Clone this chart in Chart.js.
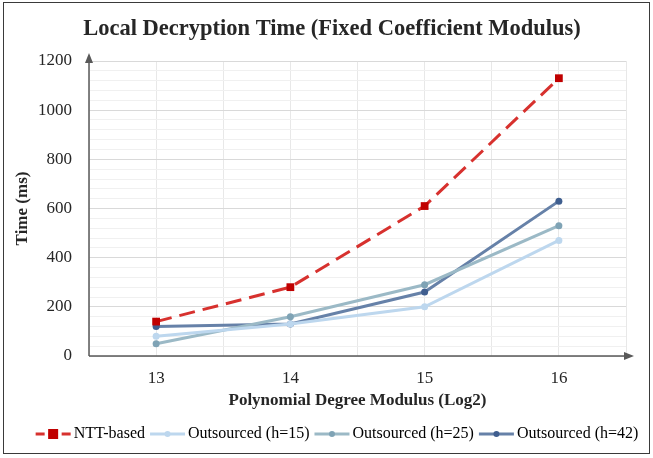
<!DOCTYPE html>
<html>
<head>
<meta charset="utf-8">
<script src="https://cdn.jsdelivr.net/npm/chart.js@4/dist/chart.umd.min.js"></script>
<style>
  html, body { margin: 0; padding: 0; background: #fff; }
  #wrap { position: relative; width: 653px; height: 458px; }
</style>
</head>
<body>
<div id="wrap"><canvas id="chart" width="653" height="458"></canvas></div>
<script>
// Chart data
const categories = [13, 14, 15, 16];
const nttBased = [140, 280, 610, 1130];
const outsourced15 = [80, 130, 200, 470];
const outsourced25 = [50, 160, 290, 530];
const outsourced42 = [120, 130, 260, 630];
const yTicks = [0, 200, 400, 600, 800, 1000, 1200];

const serif = "'Liberation Serif', 'Times New Roman', serif";

function toPoints(values) {
    return categories.map((c, i) => ({ x: c, y: values[i] }));
}

// line + marker swatch for the legend, drawn into the legend box
function drawSwatch(ctx, ds, x, y, w) {
    ctx.save();
    ctx.strokeStyle = ds.borderColor;
    ctx.lineWidth = 3;
    if (ds.borderDash) ctx.setLineDash([9, 4]);
    ctx.beginPath();
    ctx.moveTo(x, y); ctx.lineTo(x + w, y);
    ctx.stroke();
    ctx.fillStyle = ds.backgroundColor;
    if (ds.pointStyle === 'rect') {
        ctx.fillRect(x + w / 2 - 5, y - 5, 10, 10);
    } else {
        ctx.beginPath();
        ctx.arc(x + w / 2, y, 3, 0, Math.PI * 2);
        ctx.fill();
    }
    ctx.restore();
}

// axis arrows, legend swatches, outer frame
const decorPlugin = {
    id: 'decor',
    afterLayout(chart) {
        // the original's title and legend sit a bit right of centre
        chart.titleBlock.left += 13; chart.titleBlock.right += 13;
        chart.legend.left += 18; chart.legend.right += 18;
    },
    afterDraw(chart) {
        const ctx = chart.ctx;
        const a = chart.chartArea;
        ctx.save();
        ctx.strokeStyle = '#595959';
        ctx.fillStyle = '#595959';
        ctx.lineWidth = 1.5;
        ctx.beginPath();
        ctx.moveTo(a.left, a.bottom); ctx.lineTo(a.left, a.top - 2);
        ctx.moveTo(a.left, a.bottom); ctx.lineTo(a.right + 2, a.bottom);
        ctx.stroke();
        ctx.beginPath();
        ctx.moveTo(a.left, a.top - 8); ctx.lineTo(a.left - 4, a.top + 2); ctx.lineTo(a.left + 4, a.top + 2);
        ctx.closePath(); ctx.fill();
        ctx.beginPath();
        ctx.moveTo(a.right + 8, a.bottom); ctx.lineTo(a.right - 2, a.bottom - 4); ctx.lineTo(a.right - 2, a.bottom + 4);
        ctx.closePath(); ctx.fill();

        const legend = chart.legend;
        const boxW = legend.options.labels.boxWidth;
        legend.legendHitBoxes.forEach((hb, i) => {
            drawSwatch(ctx, chart.data.datasets[i], hb.left, hb.top + hb.height / 2, boxW + 5);
        });

        ctx.strokeStyle = '#3a3a3a';
        ctx.lineWidth = 1;
        ctx.strokeRect(3.5, 2.5, 646, 451);
        ctx.restore();
    }
};

const ctx = document.getElementById('chart').getContext('2d');
const chart = new Chart(ctx, {
    type: 'line',
    data: {
        datasets: [{
            label: 'NTT-based',
            data: toPoints(nttBased),
            borderColor: '#D7312E',
            backgroundColor: '#C00000',
            borderWidth: 3,
            borderDash: [16, 8],
            pointStyle: 'rect',
            pointRadius: 5.5,
            pointBorderWidth: 0,
            pointBackgroundColor: '#C00000'
        }, {
            label: 'Outsourced (h=15)',
            data: toPoints(outsourced15),
            borderColor: '#BDD7EE',
            backgroundColor: '#BDD7EE',
            borderWidth: 3,
            pointRadius: 3.5,
            pointBorderWidth: 0
        }, {
            label: 'Outsourced (h=25)',
            data: toPoints(outsourced25),
            borderColor: '#9BB9C6',
            backgroundColor: '#7FA3B5',
            borderWidth: 3,
            pointRadius: 3.5,
            pointBorderWidth: 0
        }, {
            label: 'Outsourced (h=42)',
            data: toPoints(outsourced42),
            borderColor: '#6681A8',
            backgroundColor: '#3F5E8F',
            borderWidth: 3,
            pointRadius: 3.5,
            pointBorderWidth: 0
        }]
    },
    options: {
        responsive: false,
        animation: false,
        layout: { padding: { top: 4, left: 12, right: 27, bottom: 6 } },
        plugins: {
            title: {
                display: true,
                text: 'Local Decryption Time (Fixed Coefficient Modulus)',
                color: '#262626',
                font: { family: serif, size: 22.5, weight: 'bold' },
                padding: { top: 12, bottom: 18 }
            },
            legend: {
                position: 'bottom',
                labels: {
                    color: '#262626',
                    font: { family: serif, size: 16 },
                    boxWidth: 30,
                    boxHeight: 12,
                    padding: 5,
                    generateLabels(chart) {
                        return chart.data.datasets.map((ds, i) => ({
                            text: ds.label,
                            fillStyle: 'rgba(0,0,0,0)',
                            strokeStyle: 'rgba(0,0,0,0)',
                            lineWidth: 0,
                            datasetIndex: i,
                            hidden: false
                        }));
                    }
                }
            },
            tooltip: { enabled: false }
        },
        scales: {
            x: {
                type: 'linear',
                min: 12.5,
                max: 16.5,
                border: { display: false },
                afterFit(scale) { scale.height = 65; },
                grid: { color: '#E8E8E8', drawTicks: false },
                ticks: {
                    stepSize: 0.5,
                    autoSkip: false,
                    padding: 12,
                    color: '#262626',
                    font: { family: serif, size: 17 },
                    callback: v => categories.includes(v) ? String(v) : ''
                },
                title: {
                    display: true,
                    text: 'Polynomial Degree Modulus (Log2)',
                    color: '#262626',
                    font: { family: serif, size: 17, weight: 'bold' },
                    padding: { top: 0, bottom: 10 }
                }
            },
            y: {
                min: 0,
                max: 1200,
                border: { display: false },
                afterFit(scale) { scale.width = 77; },
                grid: {
                    drawTicks: false,
                    color: c => (c.tick && c.tick.value % 200 === 0) ? '#D9D9D9' : '#F0F0F0'
                },
                ticks: {
                    stepSize: 40,
                    autoSkip: false,
                    padding: 17,
                    color: '#262626',
                    font: { family: serif, size: 17 },
                    callback: v => yTicks.includes(v) ? String(v) : ''
                },
                title: {
                    display: true,
                    text: 'Time (ms)',
                    color: '#262626',
                    font: { family: serif, size: 17, weight: 'bold' },
                    padding: { top: 0, bottom: 0 }
                }
            }
        }
    },
    plugins: [decorPlugin]
});
</script>
</body>
</html>
